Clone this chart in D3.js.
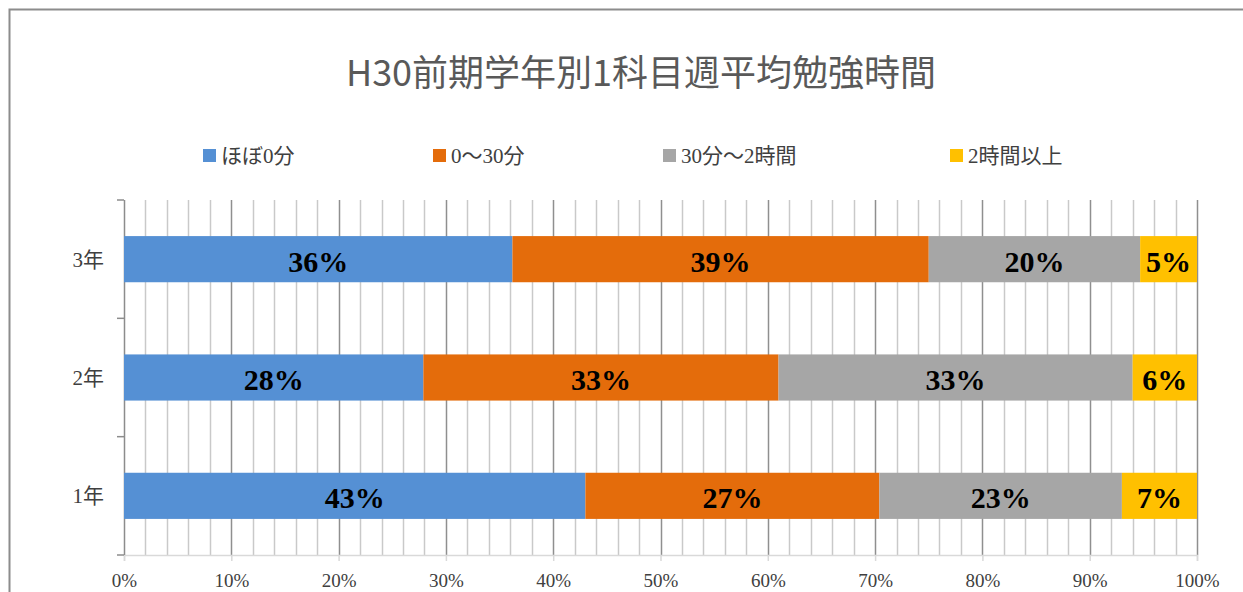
<!DOCTYPE html>
<html lang="ja">
<head>
<meta charset="utf-8"/>
<title>H30前期学年別1科目週平均勉強時間</title>
<script src="https://cdnjs.cloudflare.com/ajax/libs/d3/7.8.5/d3.min.js"></script>
<style>
  body { margin: 0; background: #fff; }
  svg { display: block; }
  .title { font-family: "Noto Sans CJK JP", "Noto Sans", sans-serif; fill: #595959; }
  .serif { font-family: "Liberation Serif", "Noto Sans CJK JP", serif; }
</style>
</head>
<body>
<div id="chart"></div>
<script>

// data
var grades = ["3年", "2年", "1年"];
var seriesNames = ["ほぼ0分", "0～30分", "30分～2時間", "2時間以上"];
var seriesColors = ["#5590d4", "#e46c0b", "#a6a6a6", "#ffc000"];
var zero30 = [36.2, 27.9, 43.0];   // ほぼ0分
var upto30 = [38.8, 33.1, 27.4];   // 0～30分
var upto2h = [19.7, 33.0, 22.6];   // 30分～2時間
var over2h = [5.3, 6.0, 7.0];      // 2時間以上
var xTicks = [0, 10, 20, 30, 40, 50, 60, 70, 80, 90, 100];

var W = 1243, H = 592;
var margin = {top: 200, right: 46, bottom: 37, left: 124};
var width = W - margin.left - margin.right,
    height = H - margin.top - margin.bottom;

var svg = d3.select("#chart").append("svg").attr("width", W).attr("height", H);

// frame
svg.append("path").attr("d", "M9.5," + H + "V9.5H" + W)
  .style("fill", "none").style("stroke", "#8c8c8c").style("stroke-width", 2);

svg.append("text").attr("class", "title")
  .attr("x", 641).attr("y", 86).attr("text-anchor", "middle")
  .style("font-size", "36px").text("H30前期学年別1科目週平均勉強時間");

// legend
var legendX = [203, 433, 663, 950];
var legend = svg.selectAll(".lg").data(seriesNames).enter().append("g")
  .attr("transform", function(d, i) { return "translate(" + legendX[i] + ",149)"; });
legend.append("rect").attr("width", 13).attr("height", 13)
  .style("fill", function(d, i) { return seriesColors[i]; });
legend.append("text").attr("class", "serif").attr("x", 18).attr("y", 14)
  .style("font-size", "21px").style("fill", "#404040").text(function(d) { return d; });

var x = d3.scaleLinear().domain([0, 100]).range([0, width]);
var y = d3.scaleBand().domain(grades).range([0, height]).paddingInner(0.61).paddingOuter(0.305);

var g = svg.append("g").attr("transform", "translate(" + margin.left + "," + margin.top + ")");

// gridlines: minor every 2%, major every 10%
var minor = d3.range(2, 101, 2).filter(function(v) { return v % 10 !== 0; });
g.selectAll(".minor").data(minor).enter().append("line")
  .attr("x1", function(d) { return Math.round(x(d)) + 0.5; })
  .attr("x2", function(d) { return Math.round(x(d)) + 0.5; })
  .attr("y1", 0).attr("y2", height)
  .style("stroke", "#c9c9c9").style("stroke-width", 1.5);
g.selectAll(".major").data(xTicks.slice(1)).enter().append("line")
  .attr("x1", function(d) { return Math.round(x(d)) + 0.5; })
  .attr("x2", function(d) { return Math.round(x(d)) + 0.5; })
  .attr("y1", 0).attr("y2", height)
  .style("stroke", "#8f8f8f").style("stroke-width", 1.5);

// x axis
var xAxis = g.append("g").attr("transform", "translate(0," + height + ")")
  .call(d3.axisBottom(x).tickValues(xTicks).tickSize(6).tickPadding(13)
    .tickFormat(function(d) { return d + "%"; }));
xAxis.select(".domain").style("stroke", "#d9d9d9").style("stroke-width", 1.5);
xAxis.selectAll(".tick line").style("stroke", "#d9d9d9").style("stroke-width", 1.5);
xAxis.selectAll("text").attr("class", "serif").style("font-size", "19px").style("fill", "#404040");

// y axis with category boundary ticks
var yAxis = g.append("g");
yAxis.append("line").attr("x1", 0.5).attr("x2", 0.5).attr("y1", 0).attr("y2", height)
  .style("stroke", "#8c8c8c").style("stroke-width", 1.5);
var bounds = d3.range(grades.length + 1).map(function(i) { return i * height / grades.length; });
yAxis.selectAll(".yt").data(bounds).enter().append("line")
  .attr("x1", -7).attr("x2", 0).attr("y1", function(d) { return d; }).attr("y2", function(d) { return d; })
  .style("stroke", "#8c8c8c").style("stroke-width", 1.5);
yAxis.selectAll(".yl").data(grades).enter().append("text").attr("class", "serif")
  .attr("x", -20).attr("y", function(d) { return y(d) + y.bandwidth() / 2; })
  .attr("dy", "0.35em").attr("text-anchor", "end")
  .style("font-size", "21px").style("fill", "#404040").text(function(d) { return d; });

// stacked bars
var rows = grades.map(function(gr, i) {
  return {grade: gr, vals: [zero30[i], upto30[i], upto2h[i], over2h[i]]};
});
var segs = [];
rows.forEach(function(r) {
  var acc = 0;
  r.vals.forEach(function(v, k) {
    segs.push({grade: r.grade, k: k, x0: acc, x1: acc + v, v: v});
    acc += v;
  });
});

g.selectAll(".seg").data(segs).enter().append("rect")
  .attr("x", function(d) { return x(d.x0); })
  .attr("width", function(d) { return x(d.x1) - x(d.x0); })
  .attr("y", function(d) { return y(d.grade); })
  .attr("height", y.bandwidth())
  .style("fill", function(d) { return seriesColors[d.k]; });

g.selectAll(".lbl").data(segs).enter().append("text").attr("class", "serif")
  .attr("x", function(d) { return (x(d.x0) + x(d.x1)) / 2; })
  .attr("y", function(d) { return y(d.grade) + y.bandwidth() / 2; })
  .attr("dy", "0.42em").attr("text-anchor", "middle")
  .style("font-size", "30px").style("font-weight", "bold").style("fill", "#000")
  .text(function(d) { return Math.round(d.v) + "%"; });

</script>
</body>
</html>
